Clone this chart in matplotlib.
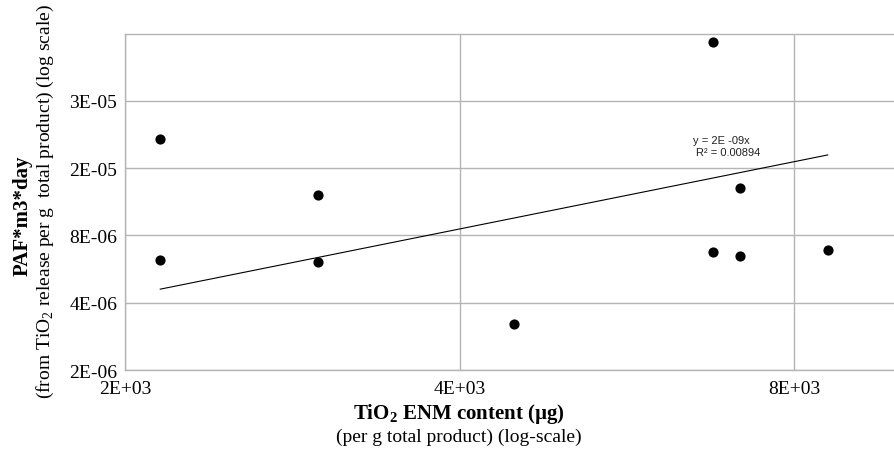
import matplotlib
matplotlib.use("Agg")
import matplotlib.pyplot as plt
import numpy as np

plt.rcParams['font.family'] = ['Liberation Serif', 'DejaVu Serif']
plt.rcParams['mathtext.fontset'] = 'custom'
plt.rcParams['mathtext.rm'] = 'Liberation Serif'
plt.rcParams['mathtext.bf'] = 'Liberation Serif:bold'

# TiO2 content (ug per g product) vs PAF*m3*day
tio2_content = [2150, 2150, 2981, 2981, 4478, 6764, 6764, 7144, 7144, 8573]
paf_value = [2.16e-5, 6.22e-6, 1.21e-5, 6.07e-6, 3.21e-6, 5.88e-5, 6.73e-6, 1.31e-5, 6.48e-6, 6.87e-6]

# trendline y = k*x as drawn
trend_k = 2.14e-9
trend_x = [min(tio2_content), max(tio2_content)]

x_ticks = [2000, 4000, 8000]
x_labels = ['2E+03', '4E+03', '8E+03']
y_ticks = [2e-6, 4e-6, 8e-6, 1.6e-5, 3.2e-5]
y_labels = ['2E-06', '4E-06', '8E-06', '2E-05', '3E-05']

fig = plt.figure(figsize=(8.94, 4.52), dpi=100)
ax = fig.add_axes([0.1402, 0.1792, 0.8598, 0.744])

ax.set_xscale('log')
ax.set_yscale('log')
ax.set_xlim(2000, 9836)
ax.set_ylim(2e-6, 6.4e-5)

ax.set_xticks(x_ticks)
ax.set_xticklabels(x_labels)
ax.set_yticks(y_ticks)
ax.set_yticklabels(y_labels)
ax.minorticks_off()
ax.tick_params(length=0, labelsize=14)
ax.tick_params(axis='x', pad=7)
ax.tick_params(axis='y', pad=6)

ax.grid(True, color='#b4b4b4', linewidth=1.0)
ax.set_axisbelow(True)
for side in ['left', 'bottom', 'top']:
    ax.spines[side].set_color('#b4b4b4')
    ax.spines[side].set_linewidth(1.0)
ax.spines['right'].set_visible(False)

ax.scatter(tio2_content, paf_value, s=40, color='black', zorder=3)
ax.plot(trend_x, [trend_k * v for v in trend_x], color='black', linewidth=0.8, zorder=2)

# trendline equation label
fig.text(0.8065, 0.688, 'y = 2E -09x', fontsize=8, family='Liberation Sans',
         ha='center', va='center', color='#222222')
fig.text(0.8143, 0.6615, 'R\u00b2 = 0.00894', fontsize=8, family='Liberation Sans',
         ha='center', va='center', color='#222222')

fig.text(0.025, 0.522, 'PAF*m3*day', rotation=90, fontsize=15, fontweight='bold',
         ha='center', va='center')
fig.text(0.051, 0.555, r'(from TiO$_2$ release per g  total product) (log scale)',
         rotation=90, fontsize=14, ha='center', va='center')

fig.text(0.513, 0.084, r'TiO$_\mathbf{2}$ ENM content (µg)', fontsize=15,
         fontweight='bold', ha='center', va='center')
fig.text(0.513, 0.033, '(per g total product) (log-scale)', fontsize=14,
         ha='center', va='center')

fig.savefig('out.png', dpi=100)
